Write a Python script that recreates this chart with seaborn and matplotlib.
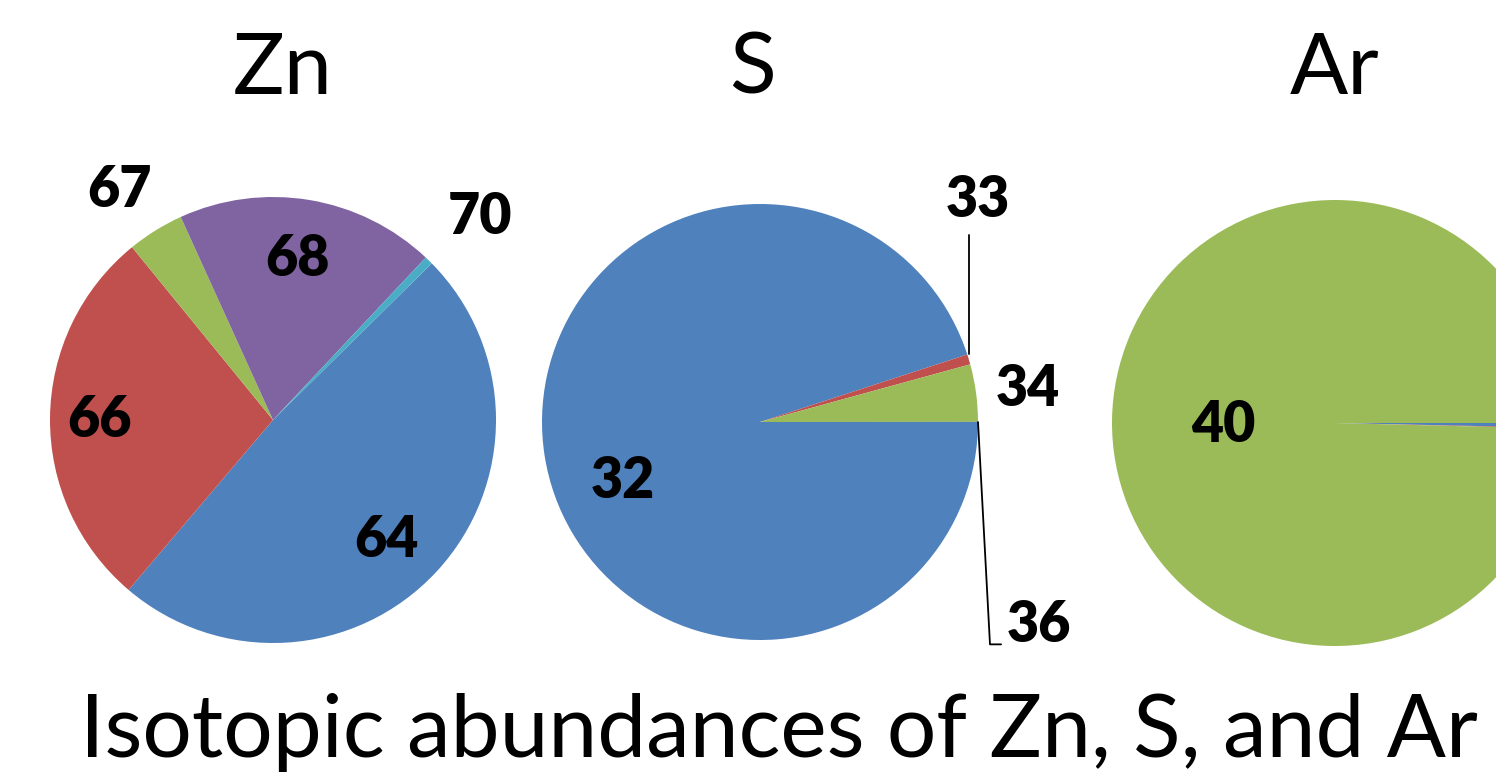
import matplotlib
matplotlib.use("Agg")
import matplotlib.pyplot as plt
import seaborn as sns

# Isotopic abundances (percent)
zn_isotopes = ["64", "66", "67", "68", "70"]
zn_abundance = [48.6, 27.9, 4.1, 18.8, 0.6]

s_isotopes = ["32", "33", "34", "36"]
s_abundance = [94.99, 0.75, 4.25, 0.01]

ar_isotopes = ["36", "38", "40"]
ar_abundance = [0.337, 0.063, 99.6]

element_names = ["Zn", "S", "Ar"]
chart_title = "Isotopic abundances of Zn, S, and Ar"

sns.set_theme(style="white")
plt.rcParams["font.family"] = ["Lato", "DejaVu Sans"]

office = sns.color_palette(["#4F81BD", "#C0504D", "#9BBB59", "#8064A2", "#4BACC6"])

W, H = 1496, 783
fig = plt.figure(figsize=(W / 100, H / 100), dpi=100)
fig.patch.set_facecolor("white")


def pie_axes(cx, cy, r):
    ax = fig.add_axes([(cx - r) / W, (H - cy - r) / H, 2 * r / W, 2 * r / H])
    ax.set_xlim(-1, 1)
    ax.set_ylim(-1, 1)
    ax.set_aspect("equal")
    ax.axis("off")
    return ax


# label anchor per isotope: (x, y) in pie radius units
zn_label_xy = [(0.51, -0.54), (-0.78, 0.0), (-0.69, 1.03), (0.11, 0.72), (0.93, 0.91)]
s_label_xy = [(-0.63, -0.27), (1.0, 1.02), (1.23, 0.15), (1.28, -0.93)]
ar_label_xy = [None, None, (-0.50, -0.01)]

pies = [
    (zn_abundance, zn_isotopes, zn_label_xy, (273, 420, 223), 44.6),
    (s_abundance, s_isotopes, s_label_xy, (760, 422, 218), 0.0),
    (ar_abundance, ar_isotopes, ar_label_xy, (1335, 423, 223), 0.0),
]

axes = []
for values, names, label_xy, (cx, cy, r), start in pies:
    ax = pie_axes(cx, cy, r)
    ax.pie(values, colors=office[:len(values)], startangle=start,
           counterclock=False, radius=1.0,
           wedgeprops=dict(linewidth=0, antialiased=True))
    ax.set_xlim(-1, 1)
    ax.set_ylim(-1, 1)
    for name, xy in zip(names, label_xy):
        if xy is None:
            continue
        ax.text(xy[0], xy[1], name, ha="center", va="center",
                fontsize=40, fontweight="heavy", color="black", clip_on=False)
    axes.append(ax)

# leader lines for the small sulfur slices
s_ax = axes[1]
s_ax.plot([0.96, 0.96], [0.31, 0.86], color="black", lw=1.3, clip_on=False)
s_ax.plot([1.0, 1.055, 1.106], [0.0, -1.02, -1.02], color="black", lw=1.3, clip_on=False)

# element headings
for name, x in zip(element_names, [283, 752, 1335]):
    fig.text(x / W, 1 - 70 / H, name, ha="center", va="center", fontsize=62, color="black")

fig.text(779 / W, 1 - 733 / H, chart_title, ha="center", va="center", fontsize=63, color="black")

fig.savefig("out.png", dpi=100, facecolor="white")
